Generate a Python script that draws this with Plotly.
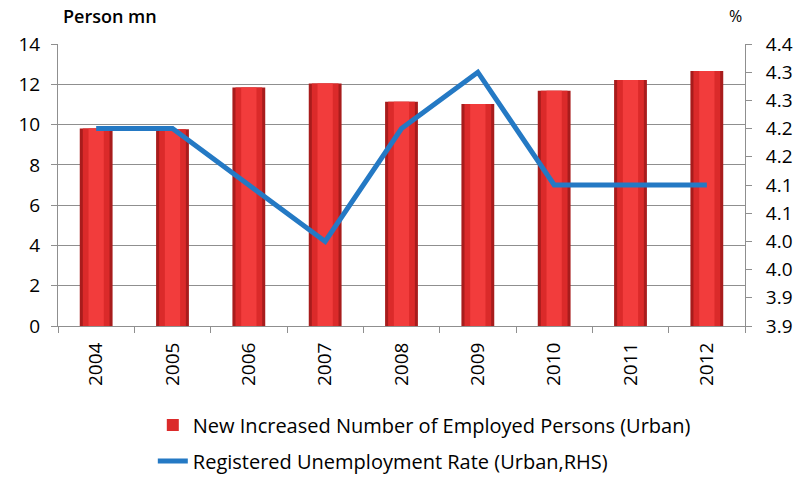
import plotly.graph_objects as go

# Urban employment data
years = ["2004", "2005", "2006", "2007", "2008", "2009", "2010", "2011", "2012"]
new_employed_mn = [9.8, 9.77, 11.84, 12.04, 11.13, 11.02, 11.68, 12.21, 12.66]
unemployment_rate = [4.2, 4.2, 4.1, 4.0, 4.2, 4.3, 4.1, 4.1, 4.1]

left_ticks = [0, 2, 4, 6, 8, 10, 12, 14]
right_ticks = [3.85, 3.90, 3.95, 4.00, 4.05, 4.10, 4.15, 4.20, 4.25, 4.30, 4.35]
right_tick_labels = ["3.9", "3.9", "4.0", "4.0", "4.1", "4.1", "4.2", "4.2", "4.3", "4.3", "4.4"]

FONT = "'Open Sans', Lato, sans-serif"
GRID = "#8f8f8f"

fig = go.Figure()

# Bars are layered (dark rim, body, highlight) to give a rounded look
fig.add_trace(go.Bar(x=years, y=new_employed_mn, width=0.43,
                     marker=dict(color="#a81c1c", line=dict(width=0)),
                     legendgroup="bars", showlegend=False, hoverinfo="skip"))
fig.add_trace(go.Bar(x=years, y=new_employed_mn, width=0.35,
                     marker=dict(color="#db2a2a", line=dict(width=0)),
                     legendgroup="bars",
                     name="New Increased Number of Employed Persons (Urban)"))
fig.add_trace(go.Bar(x=years, y=new_employed_mn, width=0.2,
                     marker=dict(color="#f23c3c", line=dict(width=0)),
                     legendgroup="bars", showlegend=False, hoverinfo="skip"))

fig.add_trace(go.Scatter(x=years, y=unemployment_rate, yaxis="y2", mode="lines",
                         line=dict(color="#2479c4", width=5), legendgroup="rate",
                         name="Registered Unemployment Rate (Urban,RHS)"))

fig.update_layout(
    width=800, height=477,
    margin=dict(l=58, r=55, t=44, b=151, autoexpand=False),
    paper_bgcolor="white", plot_bgcolor="white",
    barmode="overlay",
    font=dict(family=FONT, size=19, color="#000000"),
    xaxis=dict(
        type="category", tickangle=-90, tickson="boundaries",
        ticks="outside", ticklen=6, tickcolor=GRID, ticklabelstandoff=8,
        showline=True, linecolor=GRID, linewidth=1,
        showgrid=False, tickfont=dict(size=19), automargin=False,
    ),
    yaxis=dict(
        range=[0, 14], tickvals=left_ticks,
        ticks="outside", ticklen=6, tickcolor=GRID, ticklabelstandoff=7,
        showline=True, linecolor=GRID, linewidth=1,
        showgrid=True, gridcolor=GRID, gridwidth=1,
        zeroline=False, tickfont=dict(size=19), automargin=False,
    ),
    yaxis2=dict(
        range=[3.85, 4.35], overlaying="y", side="right",
        tickvals=right_ticks, ticktext=right_tick_labels,
        ticks="outside", ticklen=6, tickcolor=GRID, ticklabelstandoff=10,
        showline=True, linecolor=GRID, linewidth=1,
        showgrid=False, zeroline=False, tickfont=dict(size=19), automargin=False,
    ),
    legend=dict(
        orientation="v", x=0.138, y=-0.282, xanchor="left", yanchor="top",
        font=dict(size=20), bgcolor="rgba(0,0,0,0)",
        traceorder="grouped", tracegroupgap=7,
    ),
    annotations=[
        dict(text="Person mn", xref="paper", yref="paper", x=0.005, y=1.0,
             yshift=28, xanchor="left", yanchor="middle", showarrow=False,
             font=dict(size=18, family=FONT, weight=600)),
        dict(text="%", xref="paper", yref="paper", x=1.0, y=1.0, xshift=-10,
             yshift=28, xanchor="center", yanchor="middle", showarrow=False,
             font=dict(size=16, family=FONT)),
    ],
)

fig.write_html("out.html")
